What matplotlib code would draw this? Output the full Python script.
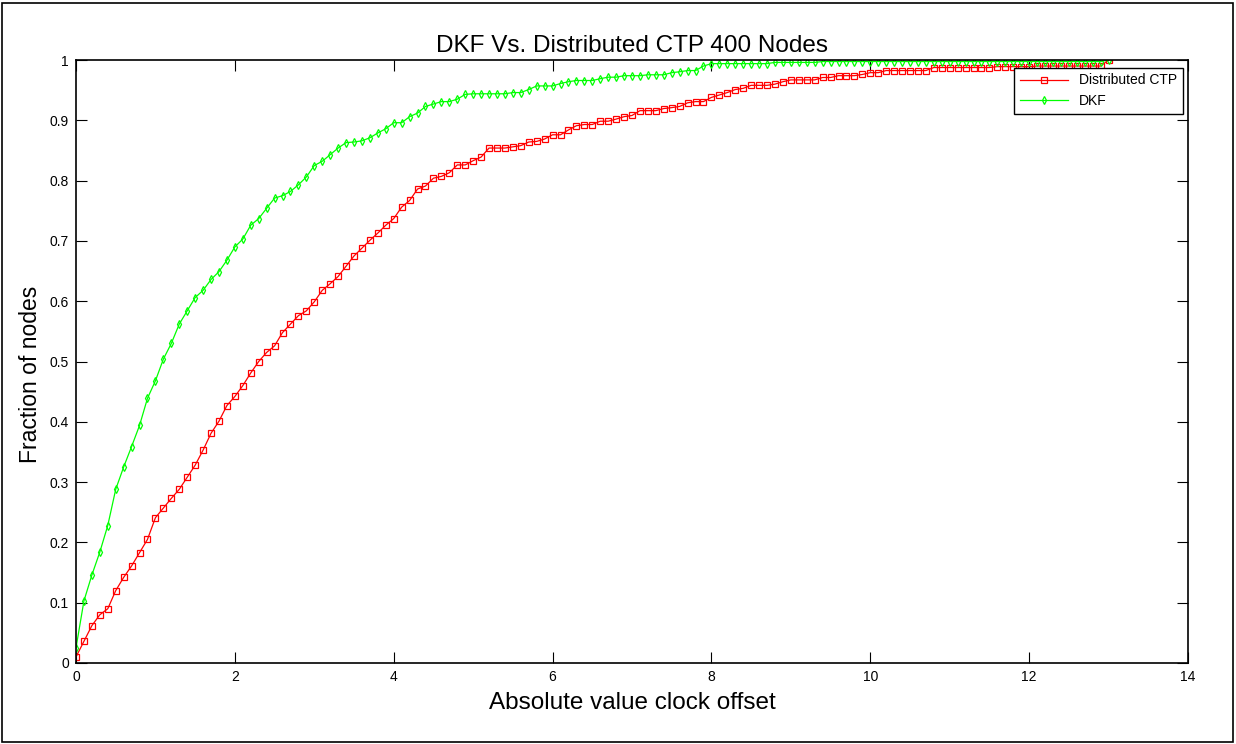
import numpy as np
import matplotlib
matplotlib.use("Agg")
import matplotlib.pyplot as plt
from matplotlib.patches import Rectangle

plt.rcParams['font.family'] = ['Liberation Sans', 'DejaVu Sans']

# absolute clock offset, sampled every 0.1 from 0 to 13
offset = np.linspace(0, 13, 131)

# fraction of nodes, DKF (green)
dkf = [0.025, 0.103, 0.146, 0.184, 0.228, 0.288, 0.325, 0.359, 0.394, 0.439,
       0.468, 0.504, 0.530, 0.562, 0.584, 0.606, 0.618, 0.636, 0.649, 0.668,
       0.690, 0.703, 0.726, 0.737, 0.754, 0.771, 0.775, 0.782, 0.793, 0.806,
       0.825, 0.832, 0.843, 0.854, 0.863, 0.864, 0.866, 0.871, 0.879, 0.886,
       0.896, 0.896, 0.906, 0.912, 0.923, 0.927, 0.931, 0.931, 0.935, 0.943,
       0.944, 0.944, 0.944, 0.944, 0.944, 0.946, 0.946, 0.951, 0.957, 0.957,
       0.957, 0.961, 0.964, 0.966, 0.966, 0.966, 0.969, 0.9715, 0.9715, 0.974,
       0.974, 0.974, 0.9755, 0.9755, 0.9755, 0.979, 0.9805, 0.9825, 0.9825, 0.990,
       0.994, 0.994, 0.994, 0.994, 0.994, 0.994, 0.994, 0.994,
       0.996, 0.996, 0.996, 0.996, 0.996, 0.996,
       0.9975, 0.9975, 0.9975, 0.9975, 0.9975, 0.9975, 0.9975, 0.9975, 0.9975, 0.9975,
       0.9975, 0.9975, 0.9975, 0.9975, 0.9975, 0.9975, 0.9975, 0.9975, 0.9975, 0.9975,
       0.9975, 0.9975, 0.9975, 0.9975, 0.9975, 0.9975, 0.9975, 0.9975, 0.9975, 0.9975,
       0.9975, 0.9975, 0.9975, 0.9975, 0.9975, 0.9975,
       1.0]

# fraction of nodes, Distributed CTP (red)
ctp = [0.010, 0.036, 0.062, 0.080, 0.090, 0.120, 0.142, 0.161, 0.183, 0.205,
       0.241, 0.257, 0.273, 0.288, 0.308, 0.328, 0.353, 0.381, 0.401, 0.427,
       0.442, 0.460, 0.481, 0.500, 0.515, 0.526, 0.548, 0.562, 0.576, 0.584,
       0.599, 0.618, 0.629, 0.641, 0.658, 0.675, 0.688, 0.701, 0.713, 0.726,
       0.737, 0.756, 0.767, 0.786, 0.791, 0.804, 0.807, 0.813, 0.826, 0.826,
       0.833, 0.839, 0.854, 0.854, 0.854, 0.856, 0.858, 0.864, 0.865, 0.869,
       0.876, 0.876, 0.884, 0.891, 0.893, 0.893, 0.8985, 0.8985, 0.902, 0.906,
       0.908, 0.916, 0.916, 0.916, 0.9195, 0.921, 0.923, 0.929, 0.931, 0.931,
       0.938, 0.942, 0.946, 0.951, 0.953, 0.958, 0.958, 0.958, 0.960, 0.964,
       0.967, 0.967, 0.967, 0.967, 0.971, 0.971, 0.974, 0.974, 0.974, 0.976,
       0.979, 0.979,
       0.9825, 0.9825, 0.9825, 0.9825, 0.9825, 0.9825,
       0.9875, 0.9875, 0.9875, 0.9875, 0.9875, 0.9875, 0.9875, 0.9875,
       0.989, 0.989, 0.989, 0.989, 0.989,
       0.990, 0.990, 0.990, 0.990, 0.990, 0.990, 0.990, 0.990, 0.990,
       1.0]

xticks = [0, 2, 4, 6, 8, 10, 12, 14]
yticks = [0, 0.1, 0.2, 0.3, 0.4, 0.5, 0.6, 0.7, 0.8, 0.9, 1]
ytick_labels = ['0', '0.1', '0.2', '0.3', '0.4', '0.5', '0.6', '0.7', '0.8', '0.9', '1']

fig = plt.figure(figsize=(12.36, 7.44), dpi=100)
ax = fig.add_axes([76 / 1236, 1 - 663 / 744, 1112 / 1236, 603 / 744])

ax.plot(offset, ctp, color='red', lw=0.9, marker='s', ms=4.5, mfc='none',
        mec='red', mew=0.9, label='Distributed CTP')
ax.plot(offset, dkf, color='#00ff00', lw=0.9, marker='d', ms=4, mfc='none',
        mec='#00ff00', mew=0.9, label='DKF')

ax.set_xlim(0, 14)
ax.set_ylim(0, 1)
ax.set_xticks(xticks)
ax.set_xticklabels([str(t) for t in xticks])
ax.set_yticks(yticks)
ax.set_yticklabels(ytick_labels)
ax.tick_params(direction='in', length=8, width=0.8, top=True, right=True,
               labelsize=10, pad=5)
for s in ax.spines.values():
    s.set_linewidth(1.2)

ax.set_title('DKF Vs. Distributed CTP 400 Nodes', fontsize=17.5, pad=6)
ax.set_xlabel('Absolute value clock offset', fontsize=17.5, labelpad=6)
ax.set_ylabel('Fraction of nodes', fontsize=16.5, labelpad=8)
ax.yaxis.set_label_coords(-0.031, 0.478)

leg = ax.legend(loc='upper right', bbox_to_anchor=(0.9955, 0.987),
                borderaxespad=0, fontsize=10, handlelength=3.5, numpoints=1,
                fancybox=False, framealpha=1, edgecolor='black')
leg.get_frame().set_linewidth(1.0)

# outer frame around the whole figure
fig.patches.append(Rectangle((2 / 1236, 2 / 744), 1231 / 1236, 739 / 744,
                             transform=fig.transFigure, fill=False,
                             edgecolor='black', lw=1.2))

fig.savefig('out.png', dpi=100)
